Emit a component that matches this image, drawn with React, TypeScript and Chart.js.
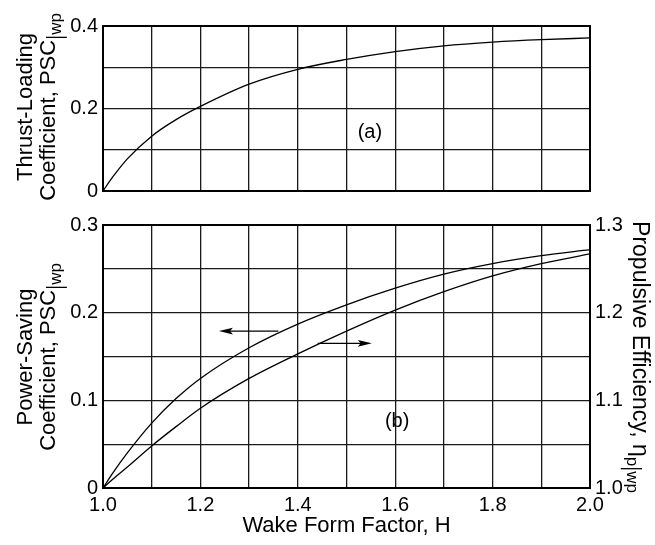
import React, { useEffect, useRef } from 'react';
import { Chart, registerables } from 'chart.js';
Chart.register(...registerables);

// ---------- data ----------
const hTop = [1.0, 1.02, 1.05, 1.1, 1.15, 1.2, 1.3, 1.4, 1.5, 1.6, 1.7, 1.8, 1.9, 2.0];
const thrustLoading = [0, 0.034, 0.078, 0.133, 0.173, 0.205, 0.259, 0.295, 0.319, 0.338, 0.352, 0.361, 0.367, 0.371];

const hBottom = [1.0, 1.02, 1.05, 1.1, 1.15, 1.2, 1.3, 1.4, 1.5, 1.6, 1.7, 1.8, 1.9, 2.0];
const powerSaving = [0, 0.017, 0.04, 0.074, 0.102, 0.125, 0.16, 0.187, 0.209, 0.228, 0.244, 0.256, 0.265, 0.272];
const propulsiveEff = [1.0, 1.01, 1.024, 1.048, 1.07, 1.091, 1.125, 1.153, 1.179, 1.203, 1.224, 1.242, 1.256, 1.267];

const xTickLabels = ['1.0', '1.2', '1.4', '1.6', '1.8', '2.0'];
const topYTickLabels = ['0', '0.2', '0.4'];
const leftYTickLabels = ['0', '0.1', '0.2', '0.3'];
const rightYTickLabels = ['1.0', '1.1', '1.2', '1.3'];

// annotations (data units)
const arrowLeft = { from: 1.36, to: 1.238, y: 0.179 };
const arrowRight = { from: 1.441, to: 1.552, y: 0.165 };
const labelA = { x: 1.548, y: 0.143, text: '(a)' };
const labelB = { x: 1.604, y: 0.076, text: '(b)' };

// ---------- styling ----------
const FONT = "'Liberation Sans', Arial, Helvetica, sans-serif";
const TICK_SIZE = 20;
const TITLE_SIZE = 22;
const SUB_SIZE = 17;
const GRID = { color: '#1a1a1a', lineWidth: 1.3, drawTicks: false };

const W = 655;
const TOP_H = 208;
const BOT_H = 337;

type Seg = { t?: string; sub?: boolean; bar?: boolean };

function drawRotated(ctx: CanvasRenderingContext2D, cx: number, cy: number, angle: number, segs: Seg[], size = TITLE_SIZE) {
  ctx.save();
  ctx.translate(cx, cy);
  ctx.rotate(angle);
  ctx.fillStyle = '#000';
  ctx.strokeStyle = '#000';
  const mainFont = `${size}px ${FONT}`;
  const subFont = `${SUB_SIZE}px ${FONT}`;
  const gap = 2.5;
  const widths = segs.map((s) => {
    if (s.bar) return gap * 2;
    ctx.font = s.sub ? subFont : mainFont;
    return ctx.measureText(s.t || '').width;
  });
  const total = widths.reduce((a, b) => a + b, 0);
  const capH = size * 0.716;
  const base = capH / 2;
  let x = -total / 2;
  ctx.textBaseline = 'alphabetic';
  ctx.textAlign = 'left';
  segs.forEach((s, i) => {
    if (s.bar) {
      ctx.lineWidth = 1.3;
      ctx.beginPath();
      ctx.moveTo(x + gap, -1);
      ctx.lineTo(x + gap, base + 12);
      ctx.stroke();
    } else {
      ctx.font = s.sub ? subFont : mainFont;
      ctx.fillText(s.t || '', x, s.sub ? base + 6 : base);
    }
    x += widths[i];
  });
  ctx.restore();
}

function drawArrow(ctx: CanvasRenderingContext2D, x1: number, x2: number, y: number) {
  const dir = x2 > x1 ? 1 : -1;
  const headL = 14;
  const headW = 3.4;
  ctx.save();
  ctx.strokeStyle = '#000';
  ctx.fillStyle = '#000';
  ctx.lineWidth = 1.2;
  ctx.beginPath();
  ctx.moveTo(x1, y);
  ctx.lineTo(x2 - dir * headL * 0.6, y);
  ctx.stroke();
  ctx.beginPath();
  ctx.moveTo(x2, y);
  ctx.lineTo(x2 - dir * headL, y - headW);
  ctx.lineTo(x2 - dir * headL * 0.8, y);
  ctx.lineTo(x2 - dir * headL, y + headW);
  ctx.closePath();
  ctx.fill();
  ctx.restore();
}

const framePlugin = {
  id: 'frame',
  afterDraw(chart: any) {
    const { ctx, chartArea: a } = chart;
    ctx.save();
    ctx.strokeStyle = '#000';
    ctx.lineWidth = 2;
    ctx.strokeRect(a.left, a.top, a.right - a.left, a.bottom - a.top);
    ctx.restore();
  },
};

const whiteBg = {
  id: 'whiteBg',
  beforeDraw(chart: any) {
    const { ctx, width, height } = chart;
    ctx.save();
    ctx.fillStyle = '#fff';
    ctx.fillRect(0, 0, width, height);
    ctx.restore();
  },
};

function fmtX(v: number) {
  return v.toFixed(1);
}
function fmtY(v: number) {
  const r = Math.round(v * 100) / 100;
  return r === 0 ? '0' : String(r);
}

const xScaleBase = (showLabels: boolean, height: number) => ({
  type: 'linear' as const,
  min: 1,
  max: 2,
  border: { display: false },
  grid: GRID,
  ticks: {
    display: showLabels,
    stepSize: 0.1,
    autoSkip: false,
    maxRotation: 0,
    padding: 5,
    color: '#000',
    font: { family: FONT, size: TICK_SIZE },
    callback: (v: any) => (xTickLabels.includes(fmtX(Number(v))) ? fmtX(Number(v)) : ''),
  },
  afterFit: (s: any) => {
    s.height = height;
  },
});

const lineStyle = {
  borderColor: '#000',
  borderWidth: 1.3,
  pointRadius: 0,
  cubicInterpolationMode: 'monotone',
  fill: false,
};

function topConfig(): any {
  return {
    type: 'line',
    data: {
      datasets: [{ ...lineStyle, data: hTop.map((h, i) => ({ x: h, y: thrustLoading[i] })) }],
    },
    options: {
      responsive: false,
      animation: false,
      layout: { padding: { top: 26, right: 65, left: 0, bottom: 0 } },
      plugins: { legend: { display: false }, tooltip: { enabled: false } },
      scales: {
        x: xScaleBase(false, TOP_H - 202),
        y: {
          type: 'linear',
          min: 0,
          max: 0.4,
          border: { display: false },
          grid: GRID,
          ticks: {
            stepSize: 0.1,
            autoSkip: false,
            padding: 5,
            color: '#000',
            font: { family: FONT, size: TICK_SIZE },
            callback: (v: any) => (topYTickLabels.includes(fmtY(Number(v))) ? fmtY(Number(v)) : ''),
          },
          afterFit: (s: any) => {
            s.width = 103;
          },
        },
      },
    },
    plugins: [
      whiteBg,
      framePlugin,
      {
        id: 'annot',
        afterDraw(chart: any) {
          const { ctx, scales } = chart;
          drawRotated(ctx, 24, 107, -Math.PI / 2, [{ t: 'Thrust-Loading' }]);
          drawRotated(ctx, 47, 107, -Math.PI / 2, [{ t: 'Coefficient, PSC' }, { bar: true }, { t: 'wp', sub: true }]);
          ctx.save();
          ctx.fillStyle = '#000';
          ctx.font = `20px ${FONT}`;
          ctx.textAlign = 'center';
          ctx.textBaseline = 'middle';
          ctx.fillText(labelA.text, scales.x.getPixelForValue(labelA.x), scales.y.getPixelForValue(labelA.y));
          ctx.restore();
        },
      },
    ],
  };
}

function bottomConfig(): any {
  const top = 225 - TOP_H;
  return {
    type: 'line',
    data: {
      datasets: [
        { ...lineStyle, data: hBottom.map((h, i) => ({ x: h, y: powerSaving[i] })), yAxisID: 'y' },
        { ...lineStyle, data: hBottom.map((h, i) => ({ x: h, y: propulsiveEff[i] })), yAxisID: 'y2' },
      ],
    },
    options: {
      responsive: false,
      animation: false,
      layout: { padding: { top, right: 0, left: 0, bottom: 0 } },
      plugins: { legend: { display: false }, tooltip: { enabled: false } },
      scales: {
        x: {
          ...xScaleBase(true, BOT_H - (488 - TOP_H)),
          title: {
            display: true,
            text: 'Wake Form Factor, H',
            color: '#000',
            font: { family: FONT, size: TITLE_SIZE },
            padding: { top: 0, bottom: 6 },
          },
        },
        y: {
          type: 'linear',
          position: 'left',
          min: 0,
          max: 0.3,
          border: { display: false },
          grid: GRID,
          ticks: {
            stepSize: 0.05,
            autoSkip: false,
            padding: 5,
            color: '#000',
            font: { family: FONT, size: TICK_SIZE },
            callback: (v: any) => (leftYTickLabels.includes(fmtY(Number(v))) ? fmtY(Number(v)) : ''),
          },
          afterFit: (s: any) => {
            s.width = 103;
          },
        },
        y2: {
          type: 'linear',
          position: 'right',
          min: 1.0,
          max: 1.3,
          border: { display: false },
          grid: { display: false, drawTicks: false },
          ticks: {
            stepSize: 0.05,
            autoSkip: false,
            padding: 5,
            color: '#000',
            font: { family: FONT, size: TICK_SIZE },
            callback: (v: any) => {
              const n = Number(v);
              const ok = Math.abs(n * 10 - Math.round(n * 10)) < 1e-6 && rightYTickLabels.includes(n.toFixed(1));
              return ok ? n.toFixed(1) : '';
            },
          },
          afterFit: (s: any) => {
            s.width = W - 590;
          },
        },
      },
    },
    plugins: [
      whiteBg,
      framePlugin,
      {
        id: 'annot',
        afterDraw(chart: any) {
          const { ctx, scales } = chart;
          const cy = 357 - TOP_H;
          drawRotated(ctx, 24, cy, -Math.PI / 2, [{ t: 'Power-Saving' }]);
          drawRotated(ctx, 47, cy, -Math.PI / 2, [{ t: 'Coefficient, PSC' }, { bar: true }, { t: 'wp', sub: true }]);
          drawRotated(
            ctx,
            641,
            357 - TOP_H,
            Math.PI / 2,
            [{ t: 'Propulsive Efficiency, η' }, { t: 'p', sub: true }, { bar: true }, { t: 'wp', sub: true }],
            23,
          );
          const yL = scales.y;
          const x = scales.x;
          drawArrow(ctx, x.getPixelForValue(arrowLeft.from), x.getPixelForValue(arrowLeft.to), yL.getPixelForValue(arrowLeft.y));
          drawArrow(ctx, x.getPixelForValue(arrowRight.from), x.getPixelForValue(arrowRight.to), yL.getPixelForValue(arrowRight.y));
          ctx.save();
          ctx.fillStyle = '#000';
          ctx.font = `20px ${FONT}`;
          ctx.textAlign = 'center';
          ctx.textBaseline = 'middle';
          ctx.fillText(labelB.text, x.getPixelForValue(labelB.x), yL.getPixelForValue(labelB.y));
          ctx.restore();
        },
      },
    ],
  };
}

export default function App() {
  const topRef = useRef<HTMLCanvasElement>(null);
  const botRef = useRef<HTMLCanvasElement>(null);
  useEffect(() => {
    const c1 = new Chart(topRef.current as HTMLCanvasElement, topConfig());
    const c2 = new Chart(botRef.current as HTMLCanvasElement, bottomConfig());
    return () => {
      c1.destroy();
      c2.destroy();
    };
  }, []);
  return (
    <div style={{ position: 'absolute', left: 0, top: 0, width: W, height: 545, background: '#fff' }}>
      <canvas ref={topRef} width={W} height={TOP_H} style={{ position: 'absolute', left: 0, top: 0, width: W, height: TOP_H }} />
      <canvas ref={botRef} width={W} height={BOT_H} style={{ position: 'absolute', left: 0, top: TOP_H, width: W, height: BOT_H }} />
    </div>
  );
}
